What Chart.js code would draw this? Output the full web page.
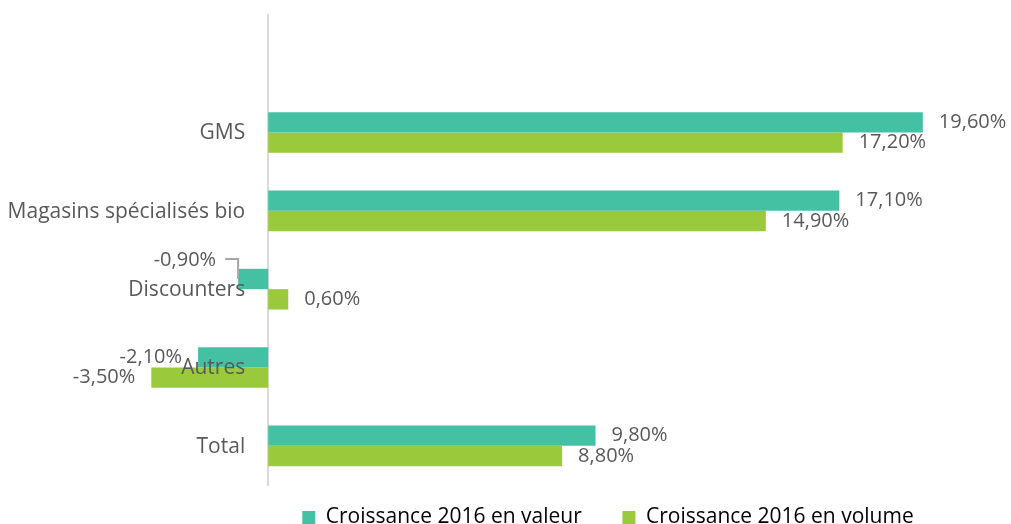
<!DOCTYPE html>
<html>
<head>
<meta charset="utf-8">
<script src="https://cdn.jsdelivr.net/npm/chart.js@4.4.1/dist/chart.umd.min.js"></script>
<style>
  html, body { margin: 0; padding: 0; background: #fff; }
  #wrap { width: 1011px; height: 524px; }
</style>
</head>
<body>
<div id="wrap"><canvas id="growthChart"></canvas></div>
<script>
// Data (first category left empty, as in the original plot)
const categories = ['', 'GMS', 'Magasins spécialisés bio', 'Discounters', 'Autres', 'Total'];
const seriesNames = ['Croissance 2016 en valeur', 'Croissance 2016 en volume'];
const valeur = [null, 19.6, 17.1, -0.9, -2.1, 9.8];
const volume = [null, 17.2, 14.9, 0.6, -3.5, 8.8];

const textColor = '#595959';
const fontFamily = "'Open Sans', Lato, sans-serif";

const fmt = v => v.toFixed(2).replace('.', ',') + '%';

// Value labels at the bar ends + category names next to the zero axis (drawn over the bars)
const barLabels = {
  id: 'barLabels',
  afterDatasetsDraw(chart) {
    const ctx = chart.ctx;
    const xs = chart.scales.x, ys = chart.scales.y;
    ctx.save();
    ctx.fillStyle = textColor;
    ctx.textBaseline = 'middle';

    ctx.font = '20px ' + fontFamily;
    chart.data.datasets.forEach((ds, di) => {
      chart.getDatasetMeta(di).data.forEach((bar, i) => {
        const v = ds.data[i];
        if (v === null) return;
        let x = v >= 0 ? bar.x + 16 : bar.x - 16;
        let y = bar.y;
        ctx.textAlign = v >= 0 ? 'left' : 'right';
        // label moved away from the axis, with a leader line
        if (categories[i] === 'Discounters' && di === 0) {
          x -= 6;
          y -= 19;
          ctx.strokeStyle = '#a6a6a6';
          ctx.lineWidth = 2;
          ctx.beginPath();
          ctx.moveTo(x + 9, y - 1);
          ctx.lineTo(bar.x, y - 1);
          ctx.lineTo(bar.x, bar.y);
          ctx.stroke();
        }
        ctx.fillText(fmt(v), x, y);
      });
    });

    ctx.font = '21px ' + fontFamily;
    ctx.textAlign = 'right';
    const x0 = xs.getPixelForValue(0);
    categories.forEach((c, i) => {
      ctx.fillText(c, x0 - 23, ys.getPixelForValue(i) + 1);
    });
    ctx.restore();
  }
};

// Legend sits lower and to the right of the centre in the original
const shiftLegend = {
  id: 'shiftLegend',
  afterLayout(chart) {
    const lg = chart.legend;
    lg.left += 106;
    lg.right += 106;
    lg.top += 14;
    lg.bottom += 14;
  }
};

const ctx = document.getElementById('growthChart').getContext('2d');
new Chart(ctx, {
  type: 'bar',
  data: {
    labels: categories,
    datasets: [
      { label: seriesNames[0], data: valeur, backgroundColor: '#44C1A3' },
      { label: seriesNames[1], data: volume, backgroundColor: '#9ACA3C' }
    ]
  },
  options: {
    indexAxis: 'y',
    responsive: true,
    maintainAspectRatio: false,
    animation: false,
    datasets: {
      bar: { categoryPercentage: 0.52, barPercentage: 1.0 }
    },
    layout: { padding: { left: 1, right: 8, top: 15, bottom: 0 } },
    scales: {
      x: {
        display: false,
        min: -8,
        max: 22
      },
      y: {
        position: { x: 0 },
        grid: { display: false, drawTicks: false },
        border: { display: true, color: '#d9d9d9', width: 2 },
        ticks: { display: false }
      }
    },
    plugins: {
      tooltip: { enabled: false },
      legend: {
        position: 'bottom',
        labels: {
          boxWidth: 13,
          boxHeight: 13,
          padding: 8,
          color: textColor,
          font: { size: 21, family: fontFamily },
          generateLabels(chart) {
            return chart.data.datasets.map((ds, i) => ({
              text: i === 0 ? ds.label + '      ' : ds.label,
              fillStyle: ds.backgroundColor,
              strokeStyle: ds.backgroundColor,
              lineWidth: 0,
              datasetIndex: i
            }));
          }
        }
      }
    }
  },
  plugins: [barLabels, shiftLegend]
});
</script>
</body>
</html>
